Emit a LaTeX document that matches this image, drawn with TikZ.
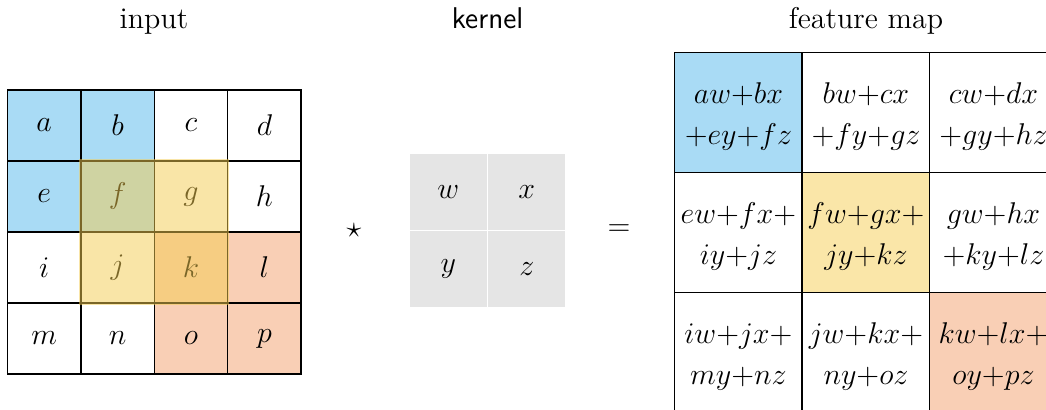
\documentclass[tikz,border=0pt]{standalone}
\definecolor{cblue}{HTML}{A9DBF5}
\definecolor{corange}{HTML}{F9CFB5}
\definecolor{cyellow}{HTML}{F5CD51}
\definecolor{cgray}{HTML}{E5E5E5}
\newcommand\tightm[1]{$\medmuskip=0mu\relax#1$}
\newcommand\twolines[2]{\begin{tabular}{@{}c@{}}\tightm{#1}\\[2.5pt]\tightm{#2}\end{tabular}}
\begin{document}
\begin{tikzpicture}[x=0.4pt,y=-0.4pt,
  title/.style={anchor=base,font=\fontsize{12}{14}\selectfont},
  incell/.style={draw=black,line width=0.6pt,minimum width=29.36pt,minimum height=28.4pt,inner sep=0pt,font=\fontsize{11.5}{14}\selectfont},
  kcell/.style={draw=white,fill=cgray,line width=0.5pt,minimum width=31.4pt,minimum height=30.8pt,inner sep=0pt,font=\fontsize{11.5}{14}\selectfont},
  fcell/.style={draw=black,line width=0.6pt,minimum width=51pt,minimum height=48pt,inner sep=0pt},
  ftext/.style={inner sep=0pt,font=\fontsize{11.5}{13.8}\selectfont},
  opsign/.style={font=\fontsize{13}{15}\selectfont}]
\useasboundingbox (0,0) rectangle (1046,410);
\clip (0,0) rectangle (1046,410);
% titles
\node[title] (tin) at (154,29) {input};
\node[title,font=\fontsize{12}{14}\selectfont\sffamily] (tk) at (487.5,29) {kernel};
\node[title] (tf) at (866,29) {feature map};
% input grid
\foreach \t/\i/\j/\c in {a/0/0/cblue,b/1/0/cblue,c/2/0/white,d/3/0/white,
  e/0/1/cblue,f/1/1/cblue,g/2/1/white,h/3/1/white,
  i/0/2/white,j/1/2/white,k/2/2/corange,l/3/2/corange,
  m/0/3/white,n/1/3/white,o/2/3/corange,p/3/3/corange}
  \node[incell,fill=\c] (in-\t) at ({7.5+73.4*(\i+0.5)},{90+71*(\j+0.5)}) {$\t$};
% yellow window overlay
\fill[cyellow,opacity=0.5] (in-f.north west) ++(-0.8,-0.8) rectangle ([shift={(0.8,0.8)}]in-k.south east);
% star and equals
\node[opsign] (star) at (354,230.7) {$\star$};
\node[opsign,font=\fontsize{12}{14}\selectfont] (eq) at (619,230) {$=$};
% kernel
\foreach \t/\i/\j in {w/0/0,x/1/0,y/0/1,z/1/1}
  \node[kcell] (k-\t) at ({409+78.5*(\i+0.5)},{153.3+77*(\j+0.5)}) {$\t$};
% feature map
\foreach \n/\i/\j/\c/\ta/\tb in {
  11/0/0/cblue/aw+bx/+ey+fz,
  12/1/0/white/bw+cx/+fy+gz,
  13/2/0/white/cw+dx/+gy+hz,
  21/0/1/white/ew+fx+/iy+jz,
  22/1/1/cyellow!50!white/fw+gx+/jy+kz,
  23/2/1/white/gw+hx/+ky+lz,
  31/0/2/white/iw+jx+/my+nz,
  32/1/2/white/jw+kx+/ny+oz,
  33/2/2/corange/kw+lx+/oy+pz}
  {\node[fcell,fill=\c] (f-\n) at ({674.7+127.5*(\i+0.5)},{52.3+120*(\j+0.5)}) {};
   \node[ftext] (f-\n-t) at ([yshift=-4.5*0.4pt]f-\n.center) {\twolines{\ta}{\tb}};}
\end{tikzpicture}
\end{document}
